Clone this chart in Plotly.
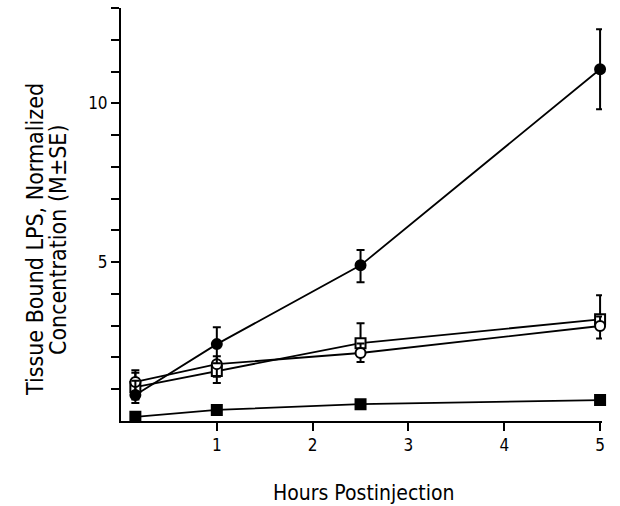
import plotly.graph_objects as go

hours = [0.15, 1, 2.5, 5]

filled_circle = [0.82, 2.42, 4.9, 11.07]
filled_circle_err_plus = [0.45, 0.53, 0.48, 1.26]
filled_circle_err_minus = [0.25, 0.6, 0.53, 1.26]

open_square = [1.07, 1.57, 2.45, 3.2]
open_square_err_plus = [0.45, 0.3, 0.63, 0.76]
open_square_err_minus = [0.3, 0.37, 0.3, 0.3]

open_circle = [1.23, 1.79, 2.14, 2.99]
open_circle_err_plus = [0.37, 0.25, 0.3, 0.3]
open_circle_err_minus = [0.55, 0.4, 0.28, 0.39]

filled_square = [0.13, 0.35, 0.53, 0.66]

y_tickvals = list(range(1, 14))
y_ticktext = ["" if v not in (5, 10) else str(v) for v in y_tickvals]
x_tickvals = [1, 2, 3, 4, 5]

x_title = "Hours Postinjection"
y_title_lines = ["Tissue Bound LPS, Normalized", "Concentration (M\u00b1SE)"]

FONT = "DejaVu Sans Condensed, Liberation Sans Narrow, Roboto, sans-serif"

fig = go.Figure()

def add(y, ep, em, symbol, fill):
    fig.add_trace(go.Scatter(
        x=hours, y=y, mode="lines+markers",
        line=dict(color="black", width=1.8),
        marker=dict(symbol=symbol, size=10, color=fill,
                    line=dict(color="black", width=2)),
        error_y=dict(type="data", array=ep, arrayminus=em, visible=ep is not None,
                     color="black", thickness=2, width=4),
        showlegend=False, cliponaxis=False, hoverinfo="skip"))

add(open_square, open_square_err_plus, open_square_err_minus, "square", "white")
add(open_circle, open_circle_err_plus, open_circle_err_minus, "circle", "white")
add(filled_circle, filled_circle_err_plus, filled_circle_err_minus, "circle", "black")
add(filled_square, None, None, "square", "black")

L, R, T, B, W, H = 121, 18, 8, 85, 620, 506
pw, ph = W - L - R, H - T - B

def px(xp):
    return (xp - L) / pw

def py(yp):
    return (H - B - yp) / ph

annotations = [
    dict(text=x_title, xref="paper", yref="paper", x=px(363), y=py(493),
         xanchor="center", yanchor="middle", showarrow=False,
         font=dict(size=21)),
    dict(text=y_title_lines[0], xref="paper", yref="paper", x=px(35), y=py(240),
         xanchor="center", yanchor="middle", showarrow=False, textangle=-90,
         font=dict(size=23)),
    dict(text=y_title_lines[1], xref="paper", yref="paper", x=px(58), y=py(240),
         xanchor="center", yanchor="middle", showarrow=False, textangle=-90,
         font=dict(size=23)),
]

fig.update_layout(
    width=W, height=H,
    margin=dict(l=L, r=R, t=T, b=B),
    plot_bgcolor="white", paper_bgcolor="white",
    font=dict(family=FONT, size=17, color="black"),
    annotations=annotations,
    xaxis=dict(range=[0, 5.02], showgrid=False, zeroline=False, automargin=False,
               showline=True, linecolor="black", linewidth=2,
               ticks="outside", ticklen=8, tickwidth=2, tickcolor="black",
               tickvals=x_tickvals, ticktext=[str(v) for v in x_tickvals]),
    yaxis=dict(range=[0, 13], showgrid=False, zeroline=False, automargin=False,
               showline=True, linecolor="black", linewidth=2,
               ticks="outside", ticklen=8, tickwidth=2, tickcolor="black",
               tickvals=y_tickvals, ticktext=y_ticktext),
)

fig.write_html("out.html", config={"displayModeBar": False},
               post_script="document.body.style.margin='0';document.body.style.overflow='hidden';")
